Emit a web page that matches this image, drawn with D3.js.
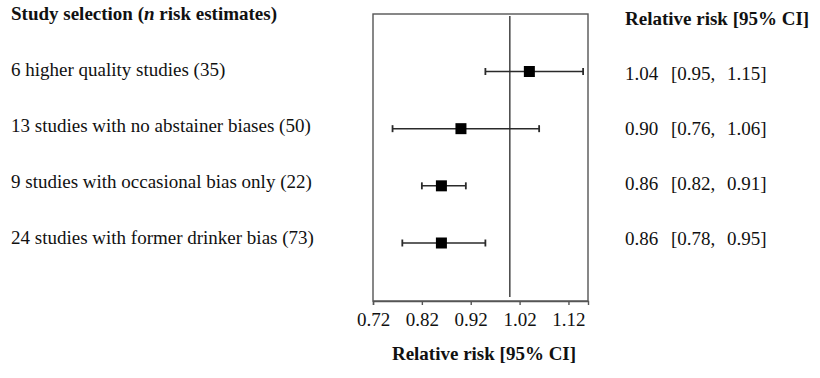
<!DOCTYPE html>
<html>
<head>
<meta charset="utf-8">
<script src="https://cdn.jsdelivr.net/npm/d3@7"></script>
<style>
  html, body { margin: 0; padding: 0; background: #fff; }
  svg { display: block; }
  text { font-family: "Liberation Serif", "Times New Roman", serif; fill: #111; }
</style>
</head>
<body>
<svg id="chart" width="820" height="378"></svg>
<script>
// ---- data ----
const studyLabels = [
  "6 higher quality studies (35)",
  "13 studies with no abstainer biases (50)",
  "9 studies with occasional bias only (22)",
  "24 studies with former drinker bias (73)"
];
const rrEstimate = [1.04, 0.90, 0.86, 0.86];
const ciLower    = [0.95, 0.76, 0.82, 0.78];
const ciUpper    = [1.15, 1.06, 0.91, 0.95];
const tickValues = [0.72, 0.82, 0.92, 1.02, 1.12];
const referenceValue = 1.0;
const leftHeader = ["Study selection (", "n", " risk estimates)"];
const rightHeader = "Relative risk [95% CI]";
const axisTitle = "Relative risk [95% CI]";

// ---- layout ----
const svg = d3.select("#chart");
const boxLeft = 373, boxRight = 588, boxTop = 14, boxBottom = 301;
const fs = "19px";

const x = d3.scaleLinear().domain([0.72, 1.16]).range([boxLeft, boxRight]);
const idx = d3.range(studyLabels.length);
const y = d3.scalePoint().domain(idx).range([71.5, 243]);        // markers
const yLeft = d3.scalePoint().domain(idx).range([76, 244]);      // left label baselines
const yRight = d3.scalePoint().domain(idx).range([80, 245]);     // right text baselines

const stroke = "#2a2a2a";

// box
svg.append("rect")
  .attr("x", boxLeft).attr("y", boxTop)
  .attr("width", boxRight - boxLeft).attr("height", boxBottom - boxTop)
  .attr("fill", "none").attr("stroke", "#555").attr("stroke-width", 1.4);

// reference line
svg.append("line")
  .attr("x1", x(referenceValue)).attr("x2", x(referenceValue))
  .attr("y1", boxTop + 2).attr("y2", boxBottom - 4)
  .attr("stroke", "#444").attr("stroke-width", 1.5);

// axis
const axis = d3.axisBottom(x)
  .tickValues(tickValues)
  .tickFormat(d3.format(".2f"))
  .tickSize(4)
  .tickPadding(8);
const gAxis = svg.append("g").attr("transform", `translate(0,${boxBottom})`).call(axis);
gAxis.select(".domain").attr("stroke", "#555").attr("stroke-width", 1.4);
gAxis.selectAll(".tick line").attr("stroke", "#555").attr("stroke-width", 1.4);
gAxis.selectAll(".tick text")
  .style("font-family", "'Liberation Serif','Times New Roman',serif")
  .style("font-size", "19px").attr("fill", "#111");

// axis title
svg.append("text")
  .attr("x", 484).attr("y", 360)
  .attr("text-anchor", "middle")
  .style("font-size", fs).style("font-weight", "bold")
  .text(axisTitle);

// CI lines & markers
const data = studyLabels.map((s, i) => ({ s, est: rrEstimate[i], lo: ciLower[i], hi: ciUpper[i], i }));
const rows = svg.append("g").selectAll("g").data(data).join("g");

rows.append("line")
  .attr("x1", d => x(d.lo)).attr("x2", d => x(d.hi))
  .attr("y1", d => y(d.i)).attr("y2", d => y(d.i))
  .attr("stroke", stroke).attr("stroke-width", 1.5);
rows.append("line")
  .attr("x1", d => x(d.lo)).attr("x2", d => x(d.lo))
  .attr("y1", d => y(d.i) - 3.5).attr("y2", d => y(d.i) + 3.5)
  .attr("stroke", stroke).attr("stroke-width", 1.8);
rows.append("line")
  .attr("x1", d => x(d.hi)).attr("x2", d => x(d.hi))
  .attr("y1", d => y(d.i) - 3.5).attr("y2", d => y(d.i) + 3.5)
  .attr("stroke", stroke).attr("stroke-width", 1.8);
const sq = 11;
rows.append("rect")
  .attr("x", d => x(d.est) - sq / 2).attr("y", d => y(d.i) - sq / 2)
  .attr("width", sq).attr("height", sq)
  .attr("fill", "#000");

// left labels
const lh = svg.append("text").attr("x", 11).attr("y", 20)
  .style("font-size", fs).style("font-weight", "bold");
lh.append("tspan").text(leftHeader[0]);
lh.append("tspan").style("font-style", "italic").text(leftHeader[1]);
lh.append("tspan").text(leftHeader[2]);

rows.append("text")
  .attr("x", 11).attr("y", d => yLeft(d.i))
  .style("font-size", fs)
  .text(d => d.s);

// right column
svg.append("text").attr("x", 625).attr("y", 25)
  .style("font-size", fs).style("font-weight", "bold")
  .text(rightHeader);

const f2 = d3.format(".2f");
rows.append("text")
  .attr("x", 625).attr("y", d => yRight(d.i))
  .style("font-size", fs)
  .text(d => f2(d.est));
rows.append("text")
  .attr("x", 671).attr("y", d => yRight(d.i))
  .style("font-size", fs)
  .text(d => "[" + f2(d.lo) + ",");
rows.append("text")
  .attr("x", 727).attr("y", d => yRight(d.i))
  .style("font-size", fs)
  .text(d => f2(d.hi) + "]");
</script>
</body>
</html>
